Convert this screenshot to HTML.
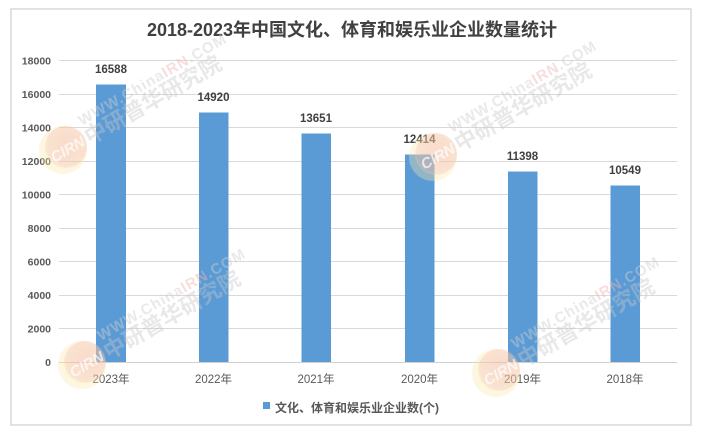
<!DOCTYPE html>
<html><head><meta charset="utf-8">
<style>
html,body{margin:0;padding:0;background:#fff;}
body{width:705px;height:432px;overflow:hidden;position:relative;font-family:"Liberation Sans","Noto Sans CJK SC",sans-serif;}
svg{position:absolute;left:0;top:0;}
</style></head>
<body>
<svg width="705" height="432" viewBox="0 0 705 432" xmlns="http://www.w3.org/2000/svg" font-family="Liberation Sans, Noto Sans CJK SC, sans-serif">
  <defs>
    <radialGradient id="lg" cx="0.55" cy="0.45" r="0.6">
      <stop offset="0" stop-color="#ee9a9a"/>
      <stop offset="0.8" stop-color="#f2b0a8"/>
      <stop offset="1" stop-color="#f8e3a8"/>
    </radialGradient>
    <g id="wm">
      <circle cx="0" cy="0" r="24" fill="#f9e7a8" opacity="0.35"/>
      <circle cx="3" cy="-3" r="21" fill="url(#lg)" opacity="0.3"/>
      <text x="-14" y="7" font-size="15" font-weight="bold" font-style="italic" fill="#ffffff" opacity="0.7" transform="rotate(-30)">CIRN</text>
      <g transform="translate(19,-24) rotate(-30)" opacity="0.45">
        <text x="0" y="0" font-size="15" font-weight="bold" fill="#cfcfcf" letter-spacing="1">WWW.China<tspan fill="#eeb4b4">IRN</tspan>.COM</text>
      </g>
      <g transform="translate(27,-5) rotate(-30)" opacity="0.4">
        <text x="0" y="0" font-size="22" font-weight="bold" fill="#c8c8c8" font-family="Noto Sans CJK SC, sans-serif">中研普华研究院</text>
      </g>
    </g>
  </defs>

  <rect x="11" y="9" width="680" height="416" fill="#fff" stroke="#d9d9d9" stroke-width="1.5"/>

  <!-- title -->
  <text x="352" y="36" text-anchor="middle" font-size="18" font-weight="bold" fill="#404040">2018-2023年中国文化、体育和娱乐业企业数量统计</text>

  <!-- gridlines -->
  <g stroke="#d9d9d9" stroke-width="1">
    <line x1="59" x2="677" y1="60.5" y2="60.5"/>
    <line x1="59" x2="677" y1="94.5" y2="94.5"/>
    <line x1="59" x2="677" y1="127.5" y2="127.5"/>
    <line x1="59" x2="677" y1="161.5" y2="161.5"/>
    <line x1="59" x2="677" y1="194.5" y2="194.5"/>
    <line x1="59" x2="677" y1="228.5" y2="228.5"/>
    <line x1="59" x2="677" y1="261.5" y2="261.5"/>
    <line x1="59" x2="677" y1="295.5" y2="295.5"/>
    <line x1="59" x2="677" y1="328.5" y2="328.5"/>
  </g>

  <!-- y labels -->
  <g font-size="10.5" fill="#595959" text-anchor="end" font-weight="bold">
    <text x="51" y="64.5">18000</text>
    <text x="51" y="98">16000</text>
    <text x="51" y="131.5">14000</text>
    <text x="51" y="165">12000</text>
    <text x="51" y="198.5">10000</text>
    <text x="51" y="232">8000</text>
    <text x="51" y="265.5">6000</text>
    <text x="51" y="299">4000</text>
    <text x="51" y="332.5">2000</text>
    <text x="51" y="366">0</text>
  </g>

  <!-- bars -->
  <g fill="#5b9bd5">
    <rect x="96" y="84.5" width="30" height="277.5"/>
    <rect x="199" y="112.5" width="29.5" height="249.5"/>
    <rect x="301.5" y="133.5" width="29.5" height="228.5"/>
    <rect x="405" y="154.5" width="29.5" height="207.5"/>
    <rect x="508" y="171.5" width="29.5" height="190.5"/>
    <rect x="610.5" y="185.5" width="29.5" height="176.5"/>
  </g>

  <line x1="59" x2="677" y1="362.5" y2="362.5" stroke="#d0d0d0" stroke-width="1"/>

  <!-- data labels -->
  <g font-size="11.5" font-weight="bold" fill="#404040" text-anchor="middle">
    <text x="111" y="73">16588</text>
    <text x="213.5" y="101">14920</text>
    <text x="316" y="122">13651</text>
    <text x="419.5" y="143">12414</text>
    <text x="522.5" y="160">11398</text>
    <text x="625" y="174">10549</text>
  </g>

  <!-- x labels -->
  <g font-size="11.5" fill="#595959" text-anchor="middle">
    <text x="111" y="383">2023年</text>
    <text x="213.5" y="383">2022年</text>
    <text x="316" y="383">2021年</text>
    <text x="419.5" y="383">2020年</text>
    <text x="522.5" y="383">2019年</text>
    <text x="625" y="383">2018年</text>
  </g>

  <!-- legend -->
  <rect x="263" y="402" width="7" height="7" fill="#5b9bd5"/>
  <text x="275" y="412" font-size="12" font-weight="bold" fill="#595959">文化、体育和娱乐业企业数(个)</text>

  <!-- watermarks (on top, faint) -->
  <use href="#wm" x="63" y="150"/>
  <use href="#wm" x="433" y="157"/>
  <use href="#wm" x="82" y="365"/>
  <use href="#wm" x="496" y="373"/>
</svg>
</body></html>
